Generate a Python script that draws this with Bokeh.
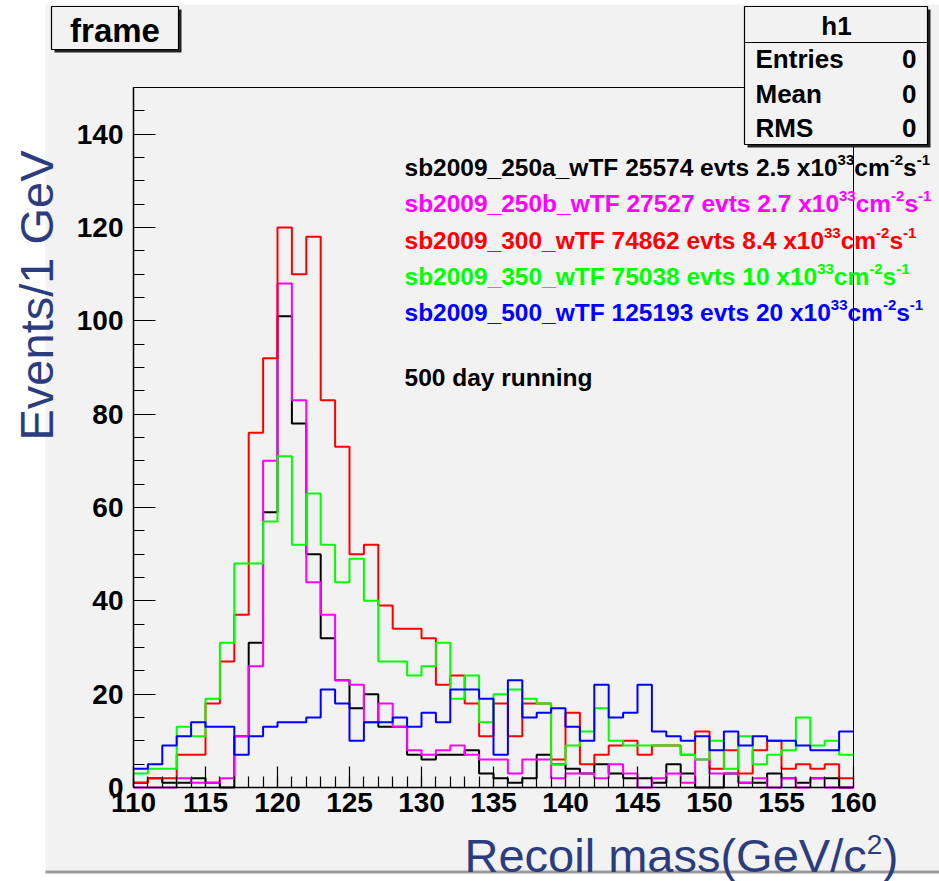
import numpy as np
from bokeh.plotting import figure
from bokeh.models import Label, SingleIntervalTicker, Range1d, LinearAxis
from bokeh.embed import file_html
from bokeh.resources import INLINE

# ---------------- data ----------------
bin_low = list(range(110, 160))  # 1 GeV bins, 110..160
hist_black = [1, 2, 1, 1, 2, 1, 0, 11, 31, 59, 101, 78, 50, 32, 23, 17, 20, 13, 13, 7,
              6, 7, 7, 8, 3, 2, 1, 2, 7, 5, 4, 3, 5, 3, 2, 2, 1, 5, 3, 0,
              0, 3, 1, 1, 3, 2, 1, 2, 2, 0]
hist_magenta = [0, 0, 0, 2, 1, 1, 2, 11, 26, 70, 108, 83, 44, 37, 23, 22, 14, 18, 13, 8,
                7, 8, 9, 7, 6, 6, 3, 6, 6, 2, 3, 3, 2, 5, 3, 0, 2, 3, 1, 6,
                3, 3, 1, 2, 0, 2, 0, 2, 0, 0]
hist_red = [1, 2, 2, 7, 7, 18, 27, 37, 76, 92, 120, 110, 118, 83, 73, 50, 52, 39, 34, 34,
            32, 22, 24, 18, 11, 18, 11, 18, 18, 6, 16, 5, 7, 9, 10, 7, 9, 9, 7, 12,
            4, 8, 3, 8, 10, 4, 5, 4, 5, 2]
hist_green = [3, 4, 4, 13, 11, 19, 31, 48, 48, 57, 71, 52, 63, 52, 44, 49, 40, 27, 27, 24,
              26, 31, 19, 24, 14, 20, 21, 19, 18, 5, 9, 12, 17, 10, 9, 9, 9, 9, 7, 6,
              10, 4, 11, 5, 7, 8, 15, 9, 10, 7]
hist_blue = [4, 5, 9, 11, 14, 13, 13, 7, 11, 13, 14, 14, 15, 21, 18, 10, 14, 14, 15, 13,
             16, 14, 21, 21, 19, 7, 23, 15, 16, 17, 13, 10, 22, 15, 16, 22, 12, 11, 10, 11,
             8, 12, 9, 11, 10, 10, 9, 8, 8, 12]

series_colors = ["#000000", "#ff00ff", "#ff0000", "#00ff00", "#0000ff"]
series_names = ["sb2009_250a_wTF", "sb2009_250b_wTF", "sb2009_300_wTF", "sb2009_350_wTF", "sb2009_500_wTF"]
series_events = ["25574", "27527", "74862", "75038", "125193"]
series_lumi = ["2.5", "2.7", "8.4", "10", "20"]

x_lim = (110, 160)
y_lim = (0, 150)
x_ticks_step = 5
y_ticks_step = 20

# ---------------- layout (pixels) ----------------
W, H = 939, 881
FL, FR, FT, FB = 133, 853, 87, 787          # histogram frame on the canvas
sx = (x_lim[1] - x_lim[0]) / (FR - FL)       # data units per pixel
sy = (y_lim[1] - y_lim[0]) / (FB - FT)

AW = {' ': 278, '-': 333, '.': 278, '_': 556, 'a': 556, 'b': 611, 'c': 556, 'd': 611,
      'e': 556, 'g': 611, 'i': 278, 'm': 889, 'n': 611, 'r': 389, 's': 556, 't': 333,
      'u': 611, 'v': 556, 'w': 778, 'x': 556, 'y': 556, 'F': 611, 'T': 611}


def tw(s, size):
    return sum(AW.get(ch, 556) for ch in s) * size / 1000.0


PAD = "#f2f2f2"
NAVY = "#2b3d7e"
FONT = "Liberation Sans"

# base coordinate system = canvas pixels (y downwards)
p = figure(width=W, height=H, output_backend="svg", toolbar_location=None,
           x_range=Range1d(0, W), y_range=Range1d(H, 0),
           x_axis_type=None, y_axis_type=None, min_border=0)
p.outline_line_color = None
p.background_fill_color = "white"
p.border_fill_color = "white"
p.xgrid.visible = False
p.ygrid.visible = False

# histogram coordinate system, spread over the whole canvas so the frame lands on FL..FR, FT..FB
p.extra_x_ranges = {"hx": Range1d(x_lim[0] - FL * sx, x_lim[1] + (W - FR) * sx)}
p.extra_y_ranges = {"hy": Range1d(y_lim[0] - (H - FB) * sy, y_lim[1] + FT * sy)}

# pad background and its shadow
p.quad(left=45, right=W, top=4, bottom=870, fill_color=PAD, line_alpha=0)
p.quad(left=45, right=W, top=870, bottom=873, fill_color="#9a9a9a", line_alpha=0)

# frame (top/right border)
p.quad(left=x_lim[0], right=x_lim[1], bottom=y_lim[0], top=y_lim[1], fill_alpha=0,
       line_color="black", line_width=1, x_range_name="hx", y_range_name="hy")

# histograms
edges = bin_low + [bin_low[-1] + 1]
for vals, col in zip([hist_black, hist_magenta, hist_red, hist_green, hist_blue], series_colors):
    p.step(edges, list(vals) + [vals[-1]], mode="after", line_color=col, line_width=2,
           x_range_name="hx", y_range_name="hy")


def box(l, r, t, b):
    p.quad(left=l + 3, right=r + 3, top=t + 3, bottom=b + 3, fill_color="#222222", line_alpha=0)
    p.quad(left=l, right=r, top=t, bottom=b, fill_color=PAD, line_color="black", line_width=1.2)


# "frame" title box and stats box
box(51, 178, 6, 49)
box(744, 927, 6, 144)
p.segment(x0=744, x1=927, y0=42, y1=42, line_color="black", line_width=1.2)

# axes fixed onto the frame edges
xaxis = LinearAxis(x_range_name="hx", y_range_name="hy", fixed_location=y_lim[0], bounds=x_lim,
                   ticker=SingleIntervalTicker(interval=x_ticks_step, num_minor_ticks=5))
yaxis = LinearAxis(x_range_name="hx", y_range_name="hy", fixed_location=x_lim[0], bounds=y_lim,
                   ticker=SingleIntervalTicker(interval=y_ticks_step, num_minor_ticks=4))
for ax in (xaxis, yaxis):
    ax.axis_line_color = "black"
    ax.axis_line_width = 1.5
    ax.major_tick_out = 0
    ax.minor_tick_out = 0
    ax.major_tick_line_color = "black"
    ax.minor_tick_line_color = "black"
    ax.major_tick_line_width = 1.2
    ax.minor_tick_line_width = 1.2
    ax.major_label_text_font = FONT
    ax.major_label_text_font_style = "bold"
    ax.major_label_text_font_size = "28px"
    ax.major_label_text_color = "black"
xaxis.major_tick_in = 21
xaxis.minor_tick_in = 11
yaxis.major_tick_in = 22
yaxis.minor_tick_in = 11
xaxis.major_label_standoff = 5
yaxis.major_label_standoff = 10
p.add_layout(xaxis, "below")
p.add_layout(yaxis, "left")


def label(px, py, text, size, color="black", align="left", style="bold", angle=0.0):
    # (px, py) is the baseline anchor; Bokeh places the vertical middle of the text
    if angle == 0.0:
        ax_, ay_ = px, py - 0.36 * size
    else:
        ax_, ay_ = px - 0.36 * size, py
    p.add_layout(Label(x=ax_, y=ay_, text=text, text_font=FONT,
                       text_font_size=f"{size}px", text_font_style=style,
                       text_color=color, text_align=align, text_baseline="middle",
                       angle=angle))


label(114.5, 42, "frame", 33, align="center")
label(836, 35, "h1", 26, align="center")
for (name, base) in [("Entries", 68), ("Mean", 103), ("RMS", 137)]:
    label(755, base, name, 26)
    label(916, base, "0", 26, align="right")

# legend text lines
MAIN, SUP, RAISE = 24.5, 15, 11
x_start = 404
for i, (nm, ev, lu, col) in enumerate(zip(series_names, series_events, series_lumi, series_colors)):
    base = 176 + i * 36.3
    pieces = [(f"{nm} {ev} evts {lu} x10", MAIN, 0), ("33", SUP, RAISE), ("cm", MAIN, 0),
              ("-2", SUP, RAISE), ("s", MAIN, 0), ("-1", SUP, RAISE)]
    cx = x_start
    for txt, sz, rs in pieces:
        label(cx, base - rs, txt, sz, color=col)
        cx += tw(txt, sz)
label(x_start, 386, "500 day running", MAIN)

# axis titles (navy, regular)
TS = 47
label(53, 440, "Events/1 GeV", TS, color=NAVY, style="normal", angle=np.pi / 2)
xt = "Recoil mass(GeV/c"
label(464, 872, xt, TS, color=NAVY, style="normal")
wx = sum({'R': 722, 'e': 556, 'c': 500, 'o': 556, 'i': 222, 'l': 222, ' ': 278, 'm': 833,
          'a': 556, 's': 500, '(': 333, 'G': 778, 'V': 667, '/': 278}.get(ch, 556) for ch in xt) * TS / 1000
label(464 + wx, 854, "2", 28, color=NAVY, style="normal")
label(464 + wx + 16, 872, ")", TS, color=NAVY, style="normal")

open("out.html", "w").write(file_html(p, INLINE))
